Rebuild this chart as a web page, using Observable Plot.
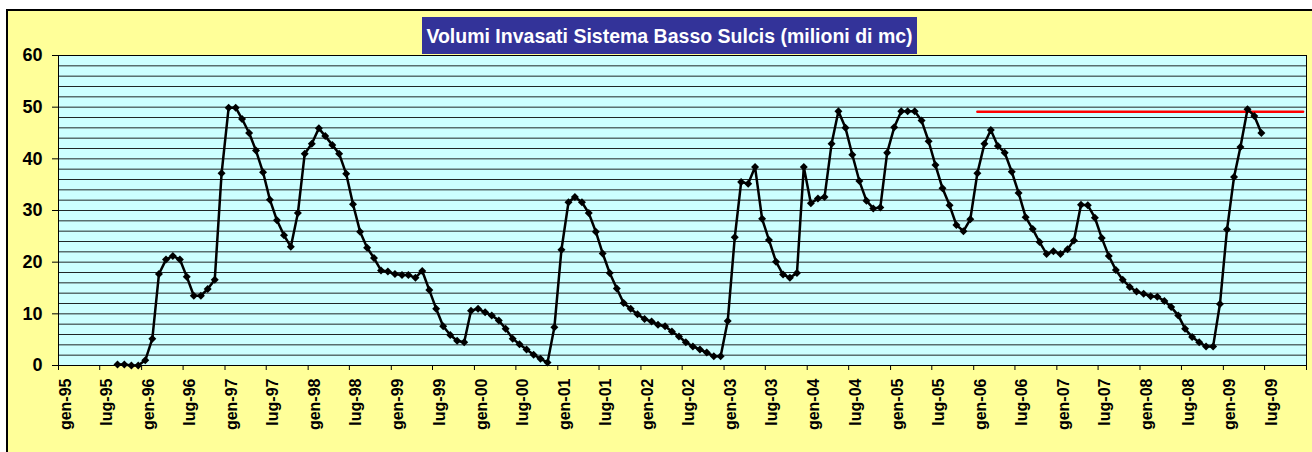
<!DOCTYPE html>
<html>
<head>
<meta charset="utf-8">
<script src="https://cdn.jsdelivr.net/npm/d3@7"></script>
<script src="https://cdn.jsdelivr.net/npm/@observablehq/plot@0.6"></script>
<style>
  html, body { margin: 0; padding: 0; background: #ffffff; overflow: hidden; }
  #wrap {
    position: absolute; left: 6px; top: 9px;
    width: 1304px; height: 441px;
    border-left: 2px solid #000; border-top: 2px solid #000;
    background: #ffff99; overflow: hidden;
    font-family: Arial, "Liberation Sans", sans-serif;
  }
  #title {
    position: absolute; left: 414px; top: 6px; width: 495px; height: 37px;
    background: #333399; color: #ffffff;
    font: bold 19.5px Arial, "Liberation Sans", sans-serif;
    display: flex; align-items: center; justify-content: center;
    white-space: nowrap; padding-top: 1px; box-sizing: border-box;
  }
  #chart svg { display: block; }
</style>
</head>
<body>
<div id="wrap">
  <div id="chart"></div>
  <div id="title">Volumi Invasati Sistema Basso Sulcis (milioni di mc)</div>
</div>
<script>
// ---- Data (monthly volumes, million m³), from Sep 1995 to Jun 2009 ----
const seriesStart = "1995-09";
const volumes = [
  // 1995 (Sep-Dec)
  0.2, 0.2, 0.0, 0.0,
  // 1996
  1.0, 5.2, 17.7, 20.5, 21.2, 20.5, 17.2, 13.5, 13.5, 14.8, 16.6, 37.2,
  // 1997
  49.9, 49.9, 47.7, 45.0, 41.6, 37.4, 32.1, 28.1, 25.2, 23.0, 29.5, 41.0,
  // 1998
  42.9, 45.9, 44.4, 42.7, 41.0, 37.1, 31.2, 25.9, 22.8, 20.8, 18.4, 18.2,
  // 1999
  17.7, 17.5, 17.5, 17.0, 18.3, 14.6, 11.0, 7.6, 5.9, 4.8, 4.5, 10.6,
  // 2000
  11.0, 10.3, 9.7, 8.7, 7.1, 5.2, 4.1, 3.1, 2.1, 1.3, 0.6, 7.4,
  // 2001
  22.4, 31.6, 32.6, 31.6, 29.5, 25.9, 21.7, 17.9, 14.9, 12.1, 11.0, 9.9,
  // 2002
  9.0, 8.5, 7.9, 7.6, 6.6, 5.6, 4.5, 3.7, 3.1, 2.5, 1.8, 1.8,
  // 2003
  8.6, 24.8, 35.5, 35.2, 38.4, 28.4, 24.3, 20.1, 17.6, 17.0, 17.9, 38.4,
  // 2004
  31.4, 32.3, 32.6, 42.9, 49.2, 46.0, 40.8, 35.7, 31.9, 30.4, 30.6, 41.2,
  // 2005
  46.1, 49.2, 49.2, 49.2, 47.4, 43.4, 38.8, 34.3, 31.0, 27.2, 26.0, 28.3,
  // 2006
  37.2, 42.9, 45.6, 42.5, 41.2, 37.5, 33.4, 28.7, 26.4, 23.9, 21.6, 22.1,
  // 2007
  21.6, 22.5, 24.2, 31.1, 31.0, 28.6, 24.7, 21.2, 18.5, 16.6, 15.2, 14.3,
  // 2008
  13.9, 13.4, 13.3, 12.5, 11.3, 9.7, 7.1, 5.5, 4.5, 3.7, 3.7, 11.9,
  // 2009
  26.3, 36.5, 42.3, 49.6, 48.3, 45.0
];

// Reference level (red line)
const refLevel = 49.1;
const refStart = "2006-01";
const refEnd = "2009-12";

// Axis
const axisStart = "1995-01";
const axisEnd = "2010-01";
const tickLabels = [
  "gen-95","lug-95","gen-96","lug-96","gen-97","lug-97","gen-98","lug-98",
  "gen-99","lug-99","gen-00","lug-00","gen-01","lug-01","gen-02","lug-02",
  "gen-03","lug-03","gen-04","lug-04","gen-05","lug-05","gen-06","lug-06",
  "gen-07","lug-07","gen-08","lug-08","gen-09","lug-09"
];
const yTicks = [0, 10, 20, 30, 40, 50, 60];
const yGrid = [0,2,4,6,8,10,12,14,16,18,20,22,24,26,28,30,32,34,36,38,40,42,44,46,48,50,52,54,56,58,60];

// ---- Build tables ----
const parseMonth = d3.utcParse("%Y-%m");
const midMonth = (m) => d3.utcDay.offset(m, 16);
const start = parseMonth(seriesStart);
const data = volumes.map((v, i) => ({ date: midMonth(d3.utcMonth.offset(start, i)), value: v }));

const refData = d3.utcMonths(parseMonth(refStart), d3.utcMonth.offset(parseMonth(refEnd), 1))
  .map(m => ({ date: midMonth(m), value: refLevel }));

const monthAbbr = { gen: 0, lug: 6 };
const tickDates = tickLabels.map(s => {
  const [m, y] = s.split("-");
  return new Date(Date.UTC((+y < 50 ? 2000 : 1900) + +y, monthAbbr[m], 1));
});
const labelByTime = new Map(tickDates.map((d, i) => [+d, tickLabels[i]]));
const xTicks = tickDates.concat([parseMonth(axisEnd)]);

const chart = Plot.plot({
  width: 1304,
  height: 441,
  marginLeft: 50,
  marginRight: 6,
  marginTop: 44,
  marginBottom: 87,
  style: { background: "transparent", fontFamily: "Arial, 'Liberation Sans', sans-serif", color: "#000" },
  x: { type: "utc", domain: [parseMonth(axisStart), parseMonth(axisEnd)] },
  y: { domain: [0, 60] },
  marks: [
    Plot.frame({ fill: "#ccffff", stroke: null }),
    Plot.gridY(yGrid, { stroke: "#000", strokeOpacity: 0.85, strokeWidth: 1 }),
    Plot.axisY(yTicks, {
      tickSize: 6, tickPadding: 10, fontSize: 18, fontWeight: "bold",
      tickFormat: d => String(d), label: null, stroke: "#000"
    }),
    // x tick marks (at the tick positions)
    Plot.axisX(xTicks, { tickSize: 5, text: null, label: null, stroke: "#000" }),
    // x tick labels (rotated, slightly to the right of the ticks)
    Plot.axisX(tickDates, {
      tickSize: 0, tickPadding: 13, tickRotate: -90, fontSize: 16, fontWeight: "bold",
      tickFormat: d => labelByTime.get(+d) ?? "", label: null, dx: 7
    }),
    Plot.line(refData, { x: "date", y: "value", stroke: "#ff0000", strokeWidth: 2.5 }),
    Plot.line(data, { x: "date", y: "value", stroke: "#000", strokeWidth: 2.5 }),
    Plot.dot(data, { x: "date", y: "value", symbol: "diamond2", r: 3.6, fill: "#000", stroke: "none" }),
    Plot.frame({ stroke: "#000", strokeWidth: 1 })
  ]
});
document.getElementById("chart").appendChild(chart);
</script>
</body>
</html>
